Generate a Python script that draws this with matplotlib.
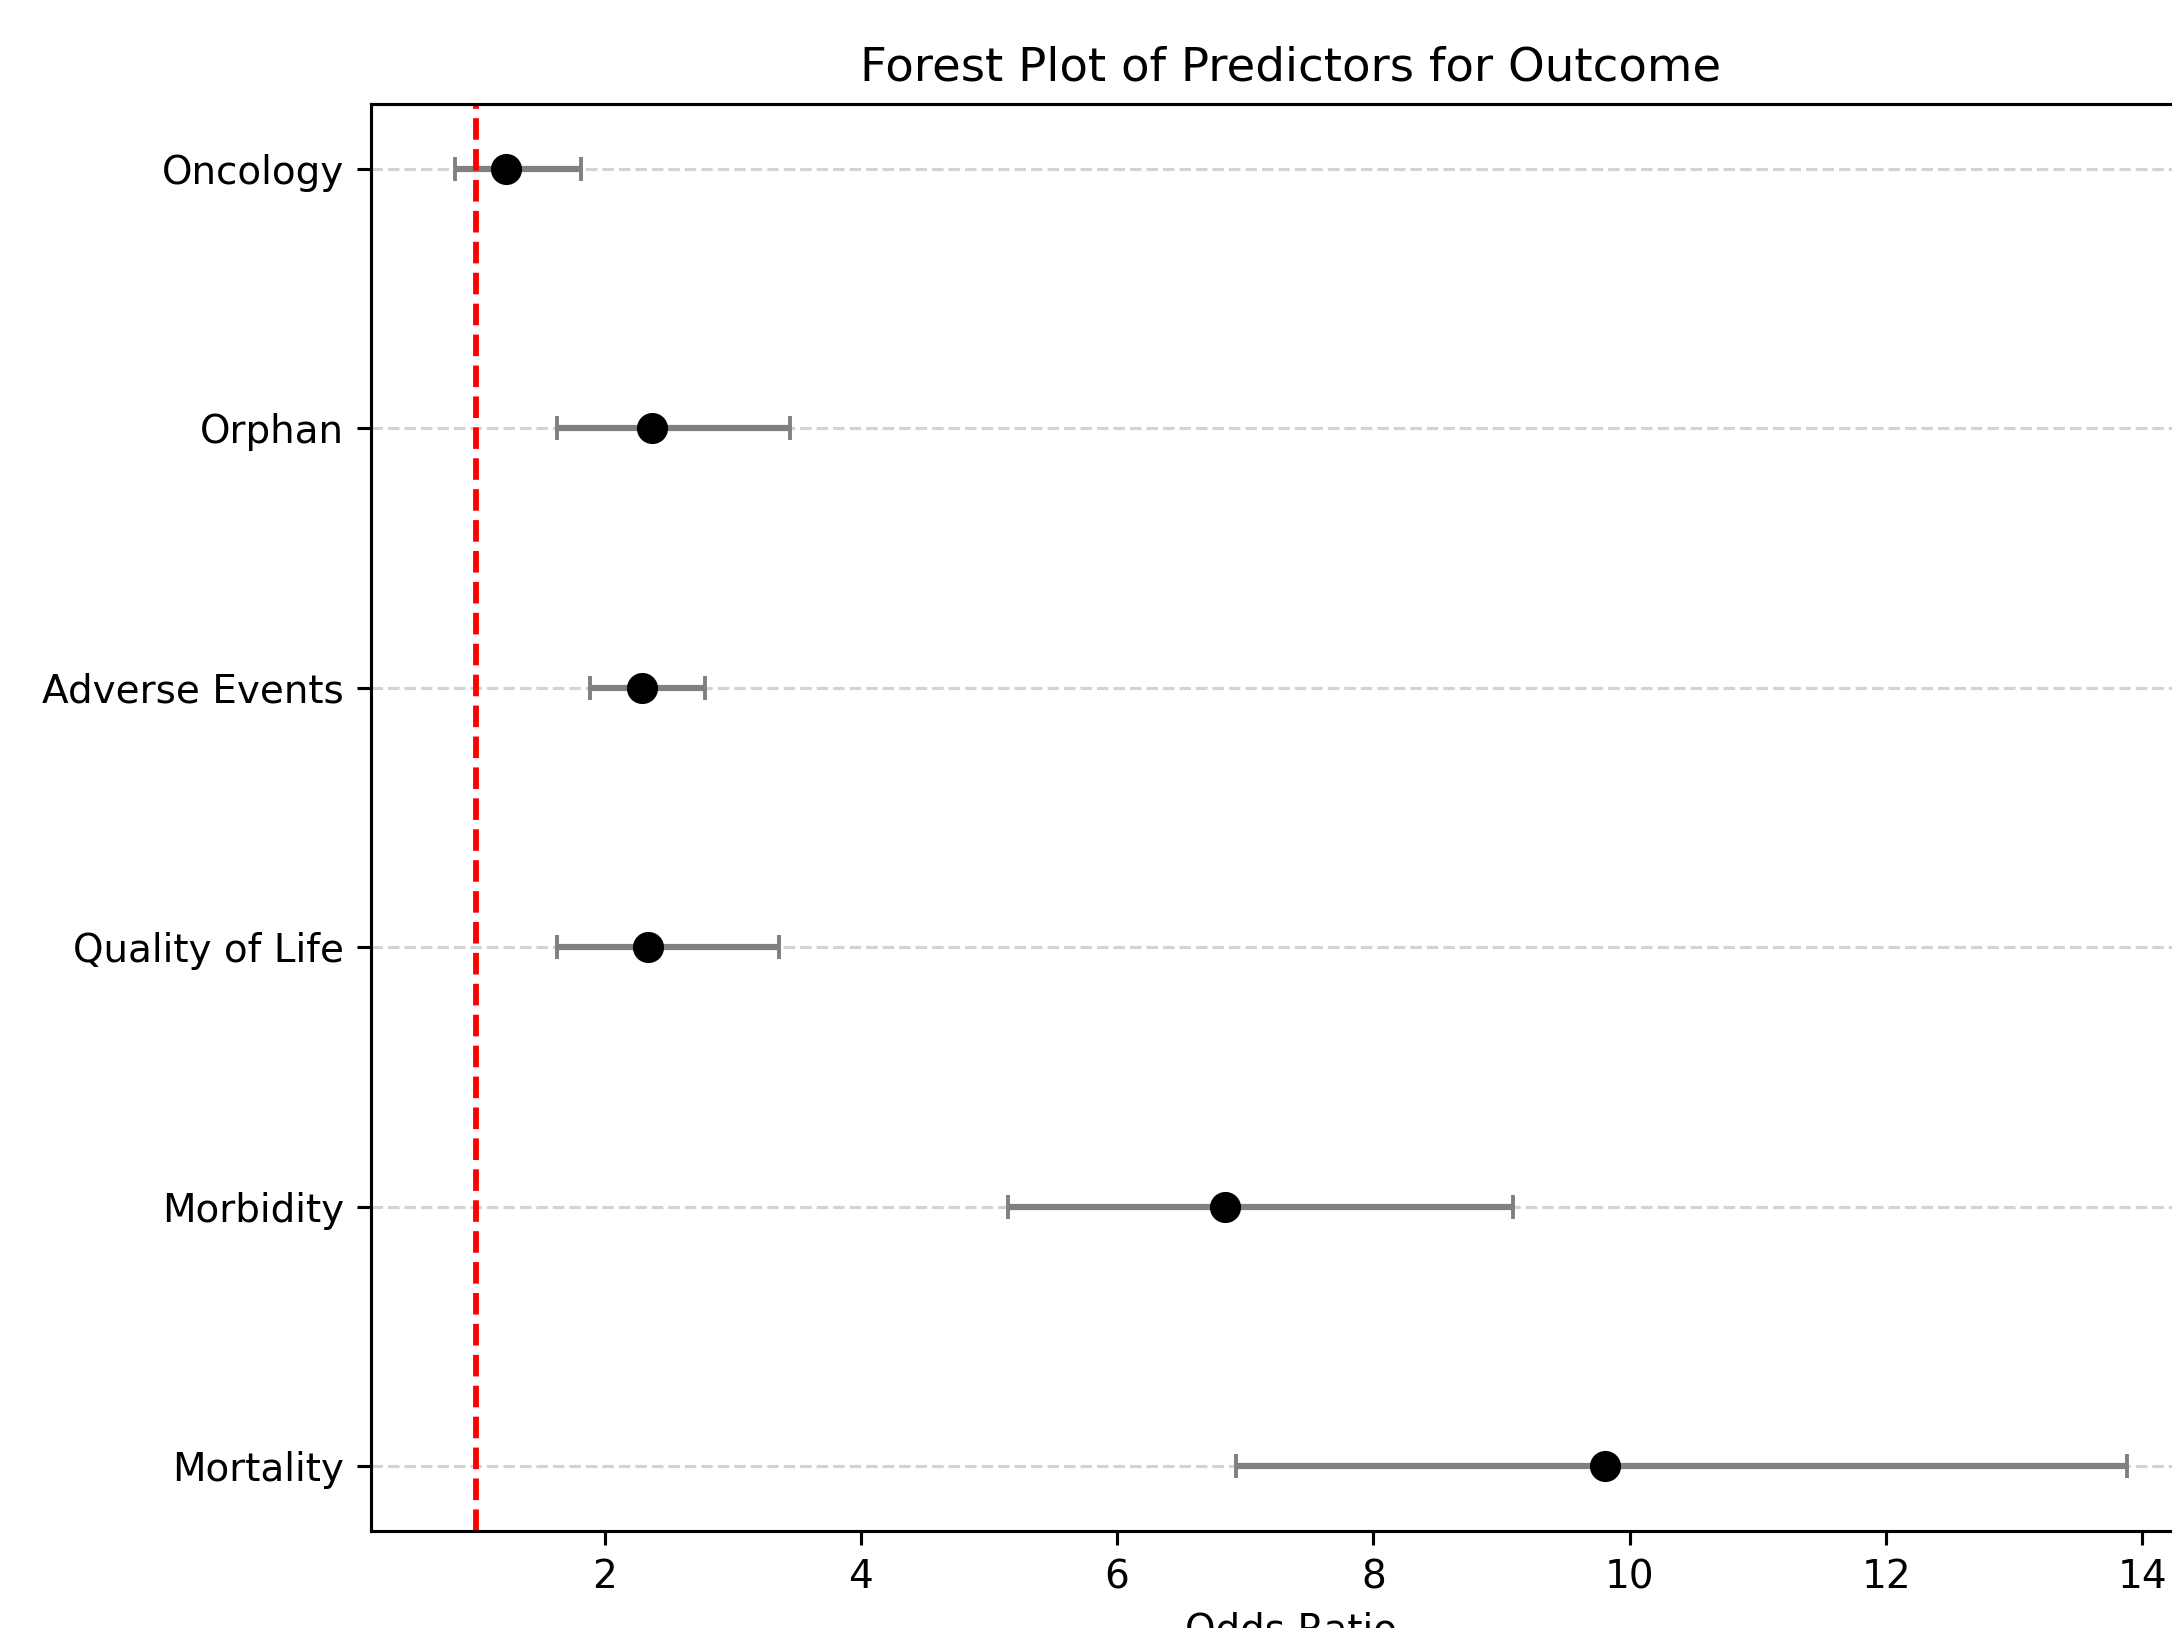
import numpy as np
import matplotlib
matplotlib.use("Agg")
import matplotlib.pyplot as plt

# predictors, top row first
predictors = ['Oncology', 'Orphan', 'Adverse Events', 'Quality of Life', 'Morbidity', 'Mortality']
odds_ratio = [1.23, 2.37, 2.29, 2.34, 6.84, 9.81]
ci_lower = [0.83, 1.63, 1.89, 1.63, 5.15, 6.93]
ci_upper = [1.82, 3.45, 2.78, 3.36, 9.09, 13.88]

dpi = 280
fig = plt.figure(figsize=(2172 / dpi, 1628 / dpi), dpi=dpi)
# axes runs a little past the right edge, like the reference crop
ax = fig.add_axes([0.1708, 0.0596, 0.847, 0.8765])

y = np.arange(len(predictors))[::-1]
odds = np.array(odds_ratio)
lo = odds - np.array(ci_lower)
hi = np.array(ci_upper) - odds

ax.errorbar(odds, y, xerr=[lo, hi], fmt='o', color='black', ecolor='gray',
            elinewidth=1.6, capsize=3, markersize=7)
ax.axvline(x=1, color='red', linestyle='--', linewidth=1.5)

ax.set_yticks(y)
ax.set_yticklabels(predictors)
ax.set_xlabel('Odds Ratio')
ax.set_title('Forest Plot of Predictors for Outcome')
ax.grid(axis='y', linestyle='--', color='lightgray')

fig.savefig('out.png', dpi=dpi)
